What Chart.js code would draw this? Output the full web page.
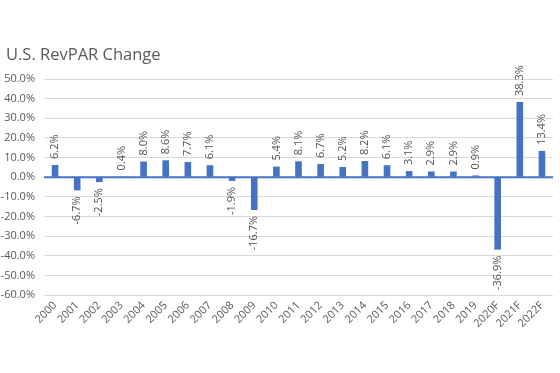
<!DOCTYPE html>
<html>
<head>
<meta charset="utf-8">
<script src="https://cdn.jsdelivr.net/npm/chart.js@4.4.1/dist/chart.umd.min.js"></script>
<style>
  html, body { margin: 0; padding: 0; background: #fff; }
  #wrap { width: 560px; height: 373px; position: relative; }
</style>
</head>
<body>
<div id="wrap"><canvas id="chart"></canvas></div>
<script>
// DATA
const years = ["2000", "2001", "2002", "2003", "2004", "2005", "2006", "2007", "2008", "2009",
    "2010", "2011", "2012", "2013", "2014", "2015", "2016", "2017", "2018", "2019",
    "2020F", "2021F", "2022F"];
const revparChange = [6.2, -6.7, -2.5, 0.4, 8.0, 8.6, 7.7, 6.1, -1.9, -16.7,
    5.4, 8.1, 6.7, 5.2, 8.2, 6.1, 3.1, 2.9, 2.9, 0.9,
    -36.9, 38.3, 13.4];
const chartTitle = "U.S. RevPAR Change";

const barBlue = "#4472C4";
const textGrey = "#595959";

// draws the vertical value labels and the title
const valueLabels = {
    id: "valueLabels",
    afterDatasetsDraw(chart) {
        const { ctx } = chart;
        const meta = chart.getDatasetMeta(0);
        ctx.save();
        ctx.font = "11px 'Open Sans'";
        ctx.fillStyle = "#505050";
        ctx.textBaseline = "middle";
        meta.data.forEach((bar, i) => {
            const value = revparChange[i];
            ctx.save();
            if (value >= 0) {
                ctx.translate(bar.x, bar.y - 6);
                ctx.rotate(-Math.PI / 2);
                ctx.textAlign = "left";
            } else {
                ctx.translate(bar.x, bar.y + 6);
                ctx.rotate(-Math.PI / 2);
                ctx.textAlign = "right";
            }
            ctx.fillText(value.toFixed(1) + "%", 0, 0);
            ctx.restore();
        });
        ctx.font = "16.5px 'Open Sans'";
        ctx.fillStyle = textGrey;
        ctx.textAlign = "left";
        ctx.textBaseline = "alphabetic";
        ctx.fillText(chartTitle, 6, 60);
        ctx.restore();
    },
};

const canvas = document.getElementById("chart");
const chart = new Chart(canvas, {
    type: "bar",
    data: {
        labels: years,
        datasets: [{
            label: chartTitle,
            data: revparChange,
            backgroundColor: barBlue,
            barPercentage: 0.3,
            categoryPercentage: 1.0,
        }],
    },
    options: {
        responsive: true,
        maintainAspectRatio: false,
        animation: false,
        layout: { padding: { top: 79, left: 0, right: 7, bottom: 0 } },
        plugins: {
            legend: { display: false },
            tooltip: { enabled: false },
        },
        scales: {
            y: {
                min: -60,
                max: 50,
                ticks: {
                    stepSize: 10,
                    color: textGrey,
                    font: { family: "'Open Sans'", size: 11 },
                    padding: 9,
                    callback: (v) => v.toFixed(1) + "%",
                },
                grid: {
                    color: (c) => (c.tick && c.tick.value === 0 ? "rgba(0,0,0,0)" : "#d9d9d9"),
                    lineWidth: 1,
                    drawTicks: false,
                },
                border: { display: false },
                afterFit: (scale) => { scale.width = 44; },
            },
            x: {
                ticks: {
                    color: textGrey,
                    font: { family: "'Open Sans'", size: 11 },
                    minRotation: 45,
                    maxRotation: 45,
                    autoSkip: false,
                    padding: 4,
                },
                grid: { display: false, drawTicks: false },
                border: { display: false },
                afterFit: (scale) => { scale.height = 78; },
            },
        },
    },
    plugins: [valueLabels, {
        id: "zeroLine",
        beforeDatasetsDraw(chart) {
            const { ctx, chartArea, scales } = chart;
            const y0 = scales.y.getPixelForValue(0);
            ctx.save();
            ctx.strokeStyle = barBlue;
            ctx.lineWidth = 2;
            ctx.beginPath();
            ctx.moveTo(chartArea.left, y0);
            ctx.lineTo(chartArea.right, y0);
            ctx.stroke();
            ctx.restore();
        },
    }],
});
</script>
</body>
</html>
